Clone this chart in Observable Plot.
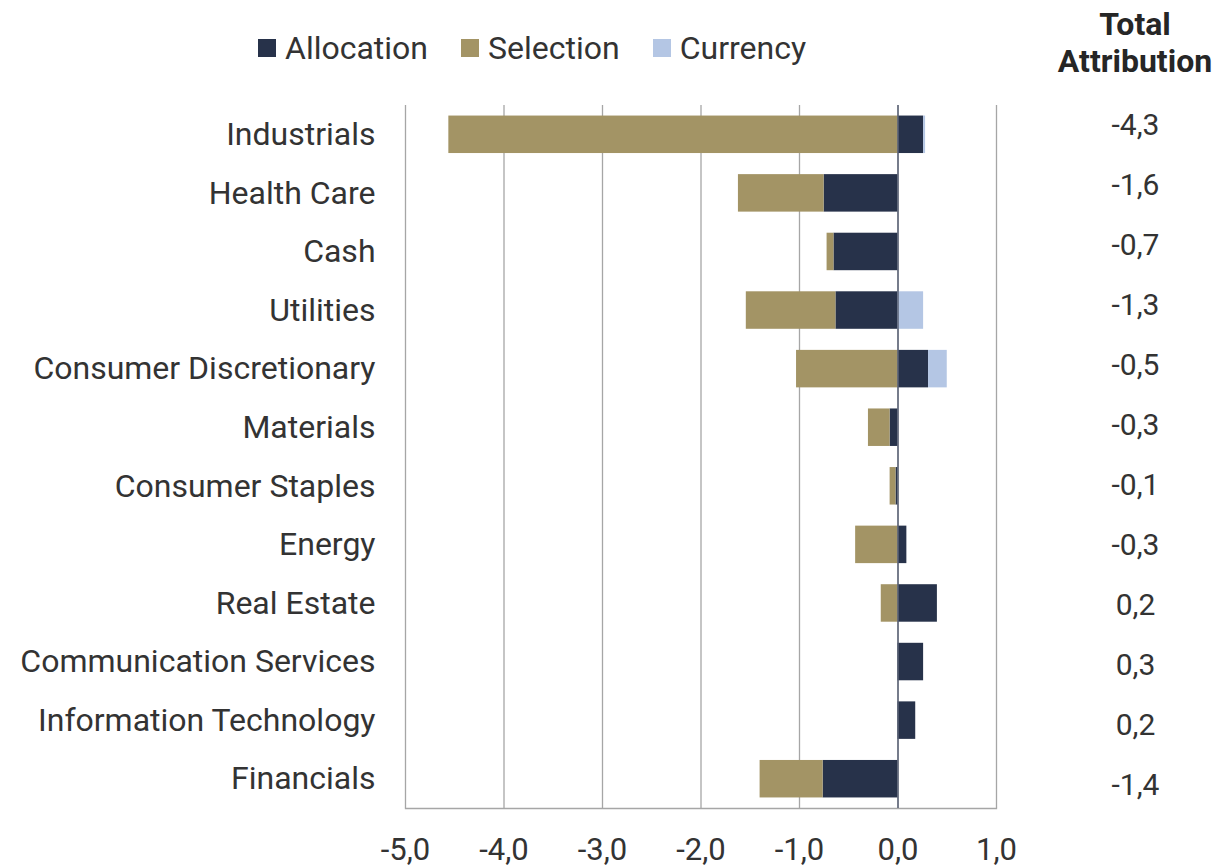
<!DOCTYPE html>
<html>
<head>
<meta charset="utf-8">
<script src="https://cdn.jsdelivr.net/npm/d3@7"></script>
<script src="https://cdn.jsdelivr.net/npm/@observablehq/plot@0.6"></script>
<style>
  html, body { margin: 0; padding: 0; background: #fff; }
  #wrap { position: relative; width: 1219px; height: 866px; font-family: Roboto, sans-serif; color: #333; }
  #legend { position: absolute; left: 258px; top: 28px; height: 40px; display: flex; align-items: center; font-size: 32px; z-index: 2; }
  .item { display: flex; align-items: center; margin-right: 33px; }
  .sw { width: 18px; height: 18px; margin-right: 9px; }
  #header { position: absolute; left: 1050px; width: 170px; top: 6px; text-align: center; font-weight: bold; font-size: 32px; line-height: 37px; color: #262626; z-index: 2; }
  svg { position: absolute; left: 0; top: 0; }
</style>
</head>
<body>
<div id="wrap">
  <div id="legend"></div>
  <div id="header">Total<br>Attribution</div>
</div>
<script>
const categories = ["Industrials", "Health Care", "Cash", "Utilities", "Consumer Discretionary", "Materials", "Consumer Staples", "Energy", "Real Estate", "Communication Services", "Information Technology", "Financials"];
const series = ["Allocation", "Selection", "Currency"];
const colors = ["#27324a", "#a39465", "#b4c6e4"];
const allocation = [0.26, -0.75, -0.65, -0.63, 0.31, -0.08, -0.02, 0.09, 0.40, 0.26, 0.18, -0.76];
const selection = [-4.56, -0.87, -0.07, -0.91, -1.03, -0.22, -0.06, -0.43, -0.17, 0, 0, -0.64];
const currency = [0.02, 0, 0, 0.26, 0.19, 0, 0, 0, 0, 0, 0, 0];
const totals = [-4.3, -1.6, -0.7, -1.3, -0.5, -0.3, -0.1, -0.3, 0.2, 0.3, 0.2, -1.4];
const xTicks = [-5, -4, -3, -2, -1, 0, 1];

const fmt = v => v.toFixed(1).replace(".", ",");
const valuesBySeries = [allocation, selection, currency];
const data = [];
series.forEach((s, j) => categories.forEach((c, i) => data.push({category: c, series: s, value: valuesBySeries[j][i]})));
const totalsData = categories.map((c, i) => ({category: c, total: totals[i]}));

const legend = document.getElementById("legend");
series.forEach((s, j) => {
  const it = document.createElement("div");
  it.className = "item";
  it.innerHTML = `<div class="sw" style="background:${colors[j]}"></div><span>${s}</span>`;
  legend.appendChild(it);
});

const chart = Plot.plot({
  width: 1219,
  height: 866,
  marginLeft: 405,
  marginRight: 223,
  marginTop: 105,
  marginBottom: 58,
  style: {fontFamily: "Roboto, sans-serif", fontSize: "32px", color: "#333", background: "transparent", overflow: "visible"},
  x: {domain: [-5, 1], ticks: xTicks, tickFormat: fmt, label: null},
  y: {domain: categories, paddingInner: 0.36, paddingOuter: 0.18, round: false, label: null},
  color: {domain: series, range: colors},
  marks: [
    Plot.ruleX(xTicks, {stroke: "#a6a6a6", strokeWidth: 1.3}),
    Plot.frame({anchor: "bottom", stroke: "#a6a6a6", strokeWidth: 1.3}),
    Plot.barX(data, Plot.stackX({x: "value", y: "category", fill: "series"})),
    Plot.ruleX([0], {stroke: "#5b6377", strokeWidth: 1.5}),
    Plot.axisX({ticks: xTicks, tickFormat: fmt, tickSize: 0, tickPadding: 29, fontSize: 31, label: null}),
    Plot.axisY({tickSize: 0, tickPadding: 30, fontSize: 32, label: null})
  ]
});
document.getElementById("wrap").appendChild(chart);

const totalsChart = Plot.plot({
  width: 1219,
  height: 866,
  marginLeft: 1055,
  marginRight: 4,
  marginTop: 123,
  marginBottom: 79,
  style: {fontFamily: "Roboto, sans-serif", fontSize: "30px", color: "#333", background: "transparent", overflow: "visible"},
  y: {type: "point", domain: categories, padding: 0, axis: null},
  marks: [
    Plot.text(totalsData, {y: "category", text: d => fmt(d.total), fontSize: 30, fill: "#333"})
  ]
});
document.getElementById("wrap").appendChild(totalsChart);
</script>
</body>
</html>
